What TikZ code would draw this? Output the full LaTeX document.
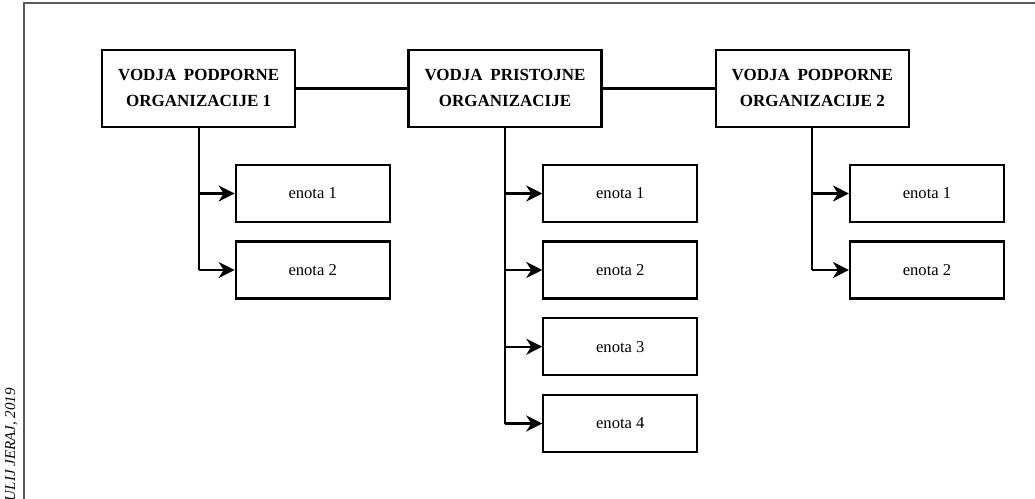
\documentclass[tikz,border=0pt]{standalone}
\usepackage{fontspec}
\setmainfont{Liberation Serif}
\usetikzlibrary{arrows.meta}
\newcommand{\leadertext}[2]{\raisebox{-7pt}{\begin{tabular}{@{}c@{}}#1\\#2\end{tabular}}}
\begin{document}
\begin{tikzpicture}[x=1pt,y=-1pt,
  head/.style={draw=black, line width=2.1pt, fill=white, inner sep=0pt,
    minimum width=193pt, minimum height=77pt,
    font=\fontsize{17}{26}\selectfont\bfseries},
  unit/.style={draw=black, line width=2.1pt, fill=white, inner sep=0pt,
    minimum width=154pt, minimum height=57pt,
    font=\fontsize{16.6}{20}\selectfont},
  link/.style={line width=2.1pt, draw=black},
  feed/.style={link, -{Stealth[length=16pt, width=16pt, inset=5pt]}}]
\useasboundingbox (0,0) rectangle (1035,498);
\clip (0,0) rectangle (1035,498);

% page frame, open to the right and below
\draw[line width=1.6pt, draw=black!65] (24,510) -- (24,3) -- (1050,3);

% side credit
\node[rotate=90, anchor=base east, inner sep=0pt,
  font=\fontsize{15}{18}\selectfont\itshape] (credit) at (15,388) {JULIJ JERAJ, 2019};

% leaders
\node[head] (h1) at (198.7,88.5) {\leadertext{VODJA\hspace{0.45em}PODPORNE}{ORGANIZACIJE 1}};
\node[head] (h2) at (505,88.5) {\leadertext{VODJA\hspace{0.45em}PRISTOJNE}{ORGANIZACIJE}};
\node[head] (h3) at (812.3,88.5) {\leadertext{VODJA\hspace{0.45em}PODPORNE}{ORGANIZACIJE 2}};

% units
\node[unit] (l1) at (312.7,193.5) {enota 1};
\node[unit] (l2) at (312.7,270) {enota 2};
\node[unit] (m1) at (620.3,193.5) {enota 1};
\node[unit] (m2) at (620.3,270) {enota 2};
\node[unit] (m3) at (620.3,346.7) {enota 3};
\node[unit] (m4) at (620.3,423.5) {enota 4};
\node[unit] (r1) at (927,193.5) {enota 1};
\node[unit] (r2) at (927,270) {enota 2};

% links between leaders
\draw[link] (h1.east) -- (h2.west);
\draw[link] (h2.east) -- (h3.west);

% trunks
\draw[link] (h1.south) -- (h1.south |- l2.west);
\draw[link] (h2.south) -- (h2.south |- m4.west);
\draw[link] (h3.south) -- (h3.south |- r2.west);

% branches
\foreach \h/\u in {h1/l1, h1/l2, h2/m1, h2/m2, h2/m3, h2/m4, h3/r1, h3/r2}
  \draw[feed] (\h.south |- \u.west) -- (\u.west);
\end{tikzpicture}
\end{document}
